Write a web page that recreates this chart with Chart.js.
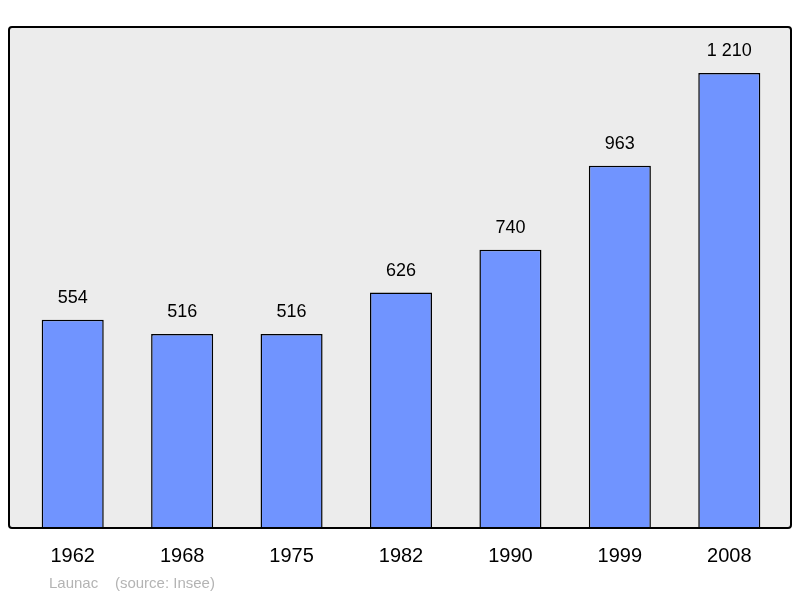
<!DOCTYPE html>
<html><head><meta charset="utf-8">
<script src="https://cdn.jsdelivr.net/npm/chart.js@4"></script>
<style>html,body{margin:0;padding:0;background:#fff}#w{width:800px;height:598px}</style>
</head><body><div id="w"><canvas id="c"></canvas></div>
<script>
const years = ["1962","1968","1975","1982","1990","1999","2008"];
const population = [554,516,516,626,740,963,1210];
const caption = "Launac    (source: Insee)";
const fmt = v => String(v).replace(/\B(?=(\d{3})+(?!\d))/g, " ");
const deco = {
  id:'deco',
  beforeDraw(ch){
    const c=ch.ctx, a=ch.chartArea;
    const x=a.left-9, y=a.top, w=(a.right+7)-x, h=a.bottom-a.top;
    c.save();c.beginPath();c.roundRect(x,y,w,h,3);
    c.fillStyle='#ececec';c.fill();c.restore();
  },
  afterDatasetsDraw(ch){
    const c=ch.ctx,a=ch.chartArea,m=ch.getDatasetMeta(0);
    c.save();
    const x=a.left-9, y=a.top, w=(a.right+7)-x, h=a.bottom-a.top;
    c.beginPath();c.roundRect(x,y,w,h,3);c.lineWidth=2;c.strokeStyle='#000';c.stroke();
    c.fillStyle='#000';c.textAlign='center';c.textBaseline='middle';
    c.font='18px "Liberation Sans", Arial, sans-serif';
    m.data.forEach((b,i)=>c.fillText(fmt(population[i]),b.x,b.y-22));
    c.font='20px "Liberation Sans", Arial, sans-serif';
    m.data.forEach((b,i)=>c.fillText(years[i],b.x,556));
    c.fillStyle='#b4b4b4';c.textAlign='left';c.font='15px "Liberation Sans", Arial, sans-serif';
    c.fillText(caption,49,584);
    c.restore();
  }
};
new Chart(document.getElementById('c'),{
  type:'bar',
  data:{labels:years,datasets:[{data:population,backgroundColor:'#7094ff',borderColor:'#000',borderWidth:1.5,barPercentage:0.567,categoryPercentage:1}]},
  options:{responsive:true,maintainAspectRatio:false,animation:false,
    layout:{padding:{left:18,right:16,top:27,bottom:70}},
    plugins:{legend:{display:false},tooltip:{enabled:false}},
    scales:{x:{display:false},y:{display:false,min:0,max:1332}}},
  plugins:[deco]
});
</script></body></html>
